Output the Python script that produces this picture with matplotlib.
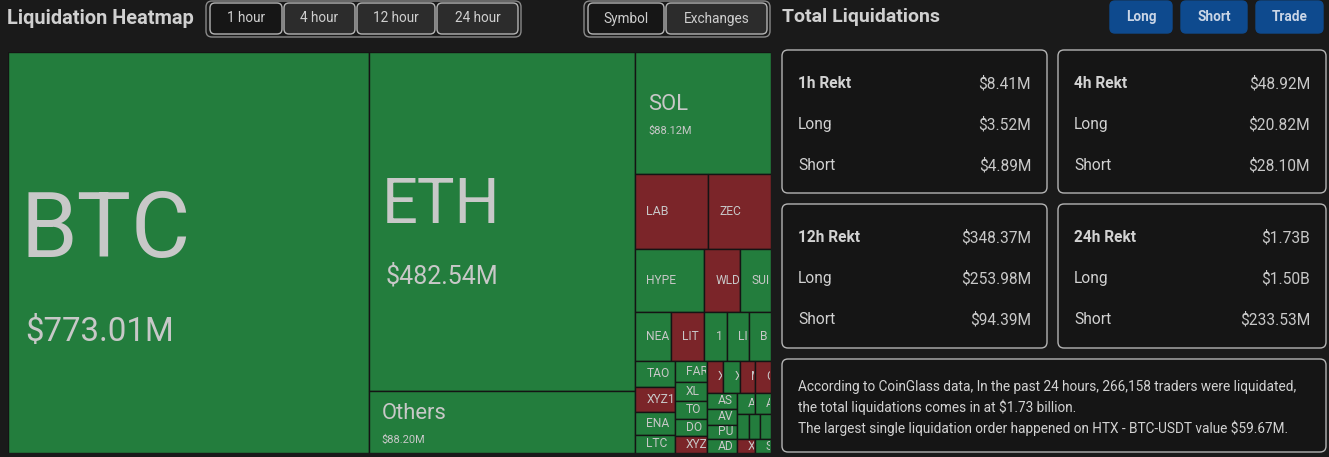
import numpy as np
import matplotlib
matplotlib.use("Agg")
import matplotlib.pyplot as plt
from matplotlib.patches import Rectangle, FancyBboxPatch
from matplotlib.transforms import Bbox

plt.rcParams['font.family'] = ['Roboto', 'DejaVu Sans']

# ---------------- data ----------------
coins = ['BTC', 'ETH', 'Others', 'SOL', 'LAB', 'ZEC', 'HYPE', 'WLD', 'SUI',
         'NEAR', 'LIT', '1000PEPE', 'LINK', 'BCH', 'TAO', 'XYZ100', 'ENA',
         'LTC', 'FARTCOIN', 'XLM', 'TON', 'DOT', 'XYZ:TSLA', 'XPL', 'XAUT',
         'MRVL', 'CL', 'ASTER', 'AVAX', 'PUMP', 'ADA', 'ARB', 'AAVE', 'TRUMP',
         'PAXG', 'UNI', 'XRP', 'S']
liq_values = [773.01, 482.54, 88.20, 88.12, 29.5, 25.5, 23.0, 12.0, 10.2,
              9.3, 8.8, 5.8, 5.8, 5.8, 5.5, 5.2, 4.9,
              3.8, 3.7, 3.3, 3.1, 3.0, 2.9, 2.8, 2.8,
              2.7, 2.7, 2.6, 2.5, 2.3, 2.2, 2.0, 1.8, 1.7,
              1.5, 1.5, 1.3, 1.2]
dominant = ['G', 'G', 'G', 'G', 'R', 'R', 'G', 'R', 'G',
            'G', 'R', 'G', 'G', 'G', 'G', 'R', 'G',
            'G', 'G', 'G', 'G', 'G', 'R', 'R', 'G',
            'R', 'R', 'G', 'G', 'G', 'G', 'G', 'G', 'G',
            'G', 'G', 'R', 'G']

time_buttons = ['1 hour', '4 hour', '12 hour', '24 hour']
view_buttons = ['Symbol', 'Exchanges']
action_buttons = ['Long', 'Short', 'Trade']

card_titles = ['1h Rekt', '4h Rekt', '12h Rekt', '24h Rekt']
card_totals = ['$8.41M', '$48.92M', '$348.37M', '$1.73B']
card_longs = ['$3.52M', '$20.82M', '$253.98M', '$1.50B']
card_shorts = ['$4.89M', '$28.10M', '$94.39M', '$233.53M']

summary_lines = [
    'According to CoinGlass data, In the past 24 hours, 266,158 traders were liquidated,',
    'the total liquidations comes in at $1.73 billion.',
    'The largest single liquidation order happened on HTX - BTC-USDT value $59.67M.',
]

# ---------------- style ----------------
BG = '#1a1a1a'
CARD_BG = '#151515'
GREEN = '#237d3d'
RED = '#7b2529'
LABEL_C = '#c8c8c8'
TEXT_C = '#d2d2d2'
EDGE_C = '#b4b4b4'
BLUE = '#0e4a8e'

W, H = 1329, 457
fig = plt.figure(figsize=(W / 100, H / 100), dpi=100, facecolor=BG)
ui = fig.add_axes([0, 0, 1, 1])
ui.set_xlim(0, W)
ui.set_ylim(H, 0)
ui.axis('off')
renderer = fig.canvas.get_renderer()


def fit(t, target_w):
    bb = t.get_window_extent(renderer)
    t.set_fontsize(t.get_fontsize() * target_w / bb.width)
    return t


def rbox(x0, y0, x1, y1, fc, ec, r=5, lw=1.0, z=2):
    p = FancyBboxPatch((x0, y0), x1 - x0, y1 - y0,
                       boxstyle=f"round,pad=0,rounding_size={r}",
                       fc=fc, ec=ec, lw=lw, zorder=z)
    ui.add_patch(p)
    return p


# ---------------- treemap (ECharts-style squarify) ----------------
TX0, TY0, TX1, TY1 = 8, 52, 771, 453
tw, th = TX1 - TX0, TY1 - TY0
tm = fig.add_axes([TX0 / W, (H - TY1) / H, tw / W, th / H])
tm.set_xlim(0, tw)
tm.set_ylim(th, 0)
tm.axis('off')


def squarify(vals, w, h, ratio=0.5 * (1 + 5 ** 0.5)):
    total = float(sum(vals))
    areas = [v / total * w * h for v in vals]
    rect = {'x': 0.0, 'y': 0.0, 'w': float(w), 'h': float(h)}
    out = [None] * len(vals)

    def worst(row, row_area, fixed):
        amax = max(areas[j] for j in row)
        amin = min(areas[j] for j in row)
        sq = row_area * row_area
        f = fixed * fixed * ratio
        return max(f * amax / sq, sq / (f * amin))

    def position(row, row_area, fixed, flush):
        horiz = fixed == rect['w']
        other = row_area / fixed
        lim = rect['h'] if horiz else rect['w']
        if flush or other > lim:
            other = lim
        last = rect['x'] if horiz else rect['y']
        end = last + (rect['w'] if horiz else rect['h'])
        for k, j in enumerate(row):
            step = areas[j] / other
            remain = end - last
            mod = remain if (k == len(row) - 1 or remain < step) else step
            if horiz:
                out[j] = (last, rect['y'], mod, other)
            else:
                out[j] = (rect['x'], last, other, mod)
            last += mod
        if horiz:
            rect['y'] += other
            rect['h'] -= other
        else:
            rect['x'] += other
            rect['w'] -= other

    fixed = min(rect['w'], rect['h'])
    best = np.inf
    row, row_area = [], 0.0
    i = 0
    while i < len(vals):
        row.append(i)
        row_area += areas[i]
        s = worst(row, row_area, fixed)
        if s <= best:
            i += 1
            best = s
        else:
            row.pop()
            row_area -= areas[i]
            position(row, row_area, fixed, False)
            fixed = min(rect['w'], rect['h'])
            row, row_area, best = [], 0.0, np.inf
    if row:
        position(row, row_area, fixed, True)
    return out


def label_px(v):
    return float(np.interp(np.log(v), np.log([28, 88, 482, 773]), [12, 22, 63, 91]))


def value_px(v):
    return float(np.interp(np.log(v), np.log([88, 482, 773]), [11, 25, 33]))


def cell_clip(x, y, w, h):
    pts = tm.transData.transform([[x, y], [x + w, y + h]])
    return Bbox.from_extents(pts[:, 0].min() + 1, pts[:, 1].min() + 1,
                             pts[:, 0].max() - 1, pts[:, 1].max() - 1)


def truncate(t, maxw):
    s = t.get_text()
    while len(s) > 1 and t.get_window_extent(renderer).width > maxw:
        s = s[:-1]
        t.set_text(s)


cells = squarify(liq_values, tw, th)
for name, v, d, (x, y, w, h) in zip(coins, liq_values, dominant, cells):
    r = Rectangle((x, y), w, h, fc=GREEN if d == 'G' else RED,
                  ec='#141414', lw=1.0, zorder=2)
    tm.add_patch(r)
    fs = label_px(v)
    cy = y + h / 2
    clip = cell_clip(x, y, w, h)
    if v >= 80:
        pad = 13
        t1 = tm.text(x + pad, cy - (0.17 * fs + 5), name, fontsize=fs * 0.72,
                     color=LABEL_C, ha='left', va='center', zorder=3)
        vs = value_px(v)
        t2 = tm.text(x + pad + (4 if v > 300 else 0), cy + 0.9 * fs - 2,
                     f'${v:.2f}M', fontsize=vs * 0.72,
                     color=LABEL_C, ha='left', va='center', zorder=3)
        for t in (t1, t2):
            truncate(t, w - pad - 2)
            t.set_clip_box(clip)
            t.set_clip_on(True)
    else:
        pad = 11
        t = tm.text(x + pad, cy, name, fontsize=fs * 0.72, color=LABEL_C,
                    ha='left', va='center', zorder=3)
        truncate(t, w - pad + 1)
        t.set_clip_box(clip)
        t.set_clip_on(True)

# ---------------- left header ----------------
t = ui.text(7, 18, 'Liquidation Heatmap', fontsize=14, fontweight='bold',
            color='#d0d0d0', ha='left', va='center')
fit(t, 188)

rbox(206, 1, 521, 37, 'none', '#8a8a8a', r=6)
bx = [(210, 282), (284, 355), (357, 435), (437, 518)]
for k, (lab, (a, b)) in enumerate(zip(time_buttons, bx)):
    rbox(a, 3, b, 34, '#161616' if k == 0 else '#2c2c2c', EDGE_C, r=5)
    ui.text((a + b) / 2, 18.5, lab, fontsize=9.8, color='#cfcfcf',
            ha='center', va='center', zorder=3)

rbox(584, 1, 770, 37, 'none', '#8a8a8a', r=6)
bx2 = [(588, 664), (666, 767)]
for k, (lab, (a, b)) in enumerate(zip(view_buttons, bx2)):
    rbox(a, 3, b, 34, '#161616' if k == 0 else '#2c2c2c', EDGE_C, r=5)
    ui.text((a + b) / 2, 18.5, lab, fontsize=9.8, color='#cfcfcf',
            ha='center', va='center', zorder=3)

# ---------------- right panel ----------------
t = ui.text(782, 17, 'Total Liquidations', fontsize=14, fontweight='bold',
            color='#d0d0d0', ha='left', va='center')
fit(t, 158)

bx3 = [(1110, 1172), (1181, 1247), (1256, 1323)]
for lab, (a, b) in zip(action_buttons, bx3):
    rbox(a, 1, b, 33, BLUE, BLUE, r=5)
    ui.text((a + b) / 2, 17, lab, fontsize=9.8, fontweight='bold',
            color='#c9d5e6', ha='center', va='center', zorder=3)

cards = [(782, 50, 1047, 193), (1058, 50, 1326, 193),
         (782, 204, 1047, 348), (1058, 204, 1326, 348)]
for (x0, y0, x1, y1), ttl, tot, lg, sh in zip(cards, card_titles, card_totals,
                                              card_longs, card_shorts):
    rbox(x0, y0, x1, y1, CARD_BG, EDGE_C, r=6)
    rows = [(ttl, tot, 'bold'), ('Long', lg, 'normal'), ('Short', sh, 'normal')]
    for k, (a, b, fw) in enumerate(rows):
        yy = y0 + 33.5 + 41 * k
        ui.text(x0 + 16, yy, a, fontsize=11.2, fontweight=fw, color=TEXT_C,
                ha='left', va='center', zorder=3)
        ui.text(x1 - 16, yy, b, fontsize=11.2, color='#c8c8c8',
                ha='right', va='center', zorder=3)

rbox(782, 359, 1326, 452, CARD_BG, EDGE_C, r=6)
fs_sum = None
for k, line in enumerate(summary_lines):
    t = ui.text(798, 387 + 20.5 * k, line, fontsize=9.4, color=TEXT_C,
                ha='left', va='center', zorder=3)
    if k == 0:
        fit(t, 500)
        fs_sum = t.get_fontsize()
    else:
        t.set_fontsize(fs_sum)

fig.savefig('out.png', dpi=100, facecolor=BG)
